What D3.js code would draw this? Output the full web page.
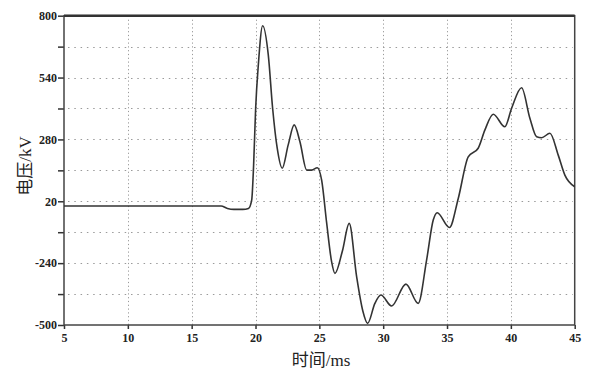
<!DOCTYPE html>
<html>
<head>
<meta charset="utf-8">
<script src="https://cdn.jsdelivr.net/npm/d3@7"></script>
<style>
  body { margin: 0; background: #fff; }
  svg { display: block; }
</style>
</head>
<body>
<svg id="chart" width="592" height="370"></svg>
<script>
// 时间 (ms)
const time = [5, 10, 15, 17.3, 17.8, 18.3, 19.0, 19.45, 19.7, 19.85, 20.01, 20.22, 20.56,
  21.0, 21.34, 21.7, 22.09, 22.56, 23.03, 23.48, 24.01, 24.4, 24.84, 25.18, 25.57, 25.96,
  26.22, 26.8, 27.34, 27.92, 28.4, 28.78, 29.35, 29.82, 30.66, 31.78, 32.74, 33.4, 33.92,
  34.23, 35.19, 35.88, 36.66, 37.44, 37.97, 38.62, 39.53, 40.06, 40.84, 41.49, 42.02,
  42.41, 43.06, 43.71, 44.23, 45]
// 电压 (kV)
const voltage = [0, 0, 0, 0, -10, -14, -14, -10, 25, 170, 410, 593, 758,
  635, 411, 243, 159, 257, 341, 270, 151, 151, 161, 109, -70, -234,
  -283, -190, -73, -297, -440, -493, -409, -374, -420, -328, -409, -227, -59,
  -28, -90, 32, 207, 243, 320, 386, 333, 411, 497, 369, 291,
  287, 306, 214, 130, 81]

const xTicks = [5, 10, 15, 20, 25, 30, 35, 40, 45]
const yTicks = [800, 540, 280, 20, -240, -500]
const yMinor = [670, 410, 150, -110, -370]

const svg = d3.select('#chart')
const box = { left: 64, right: 574.7, top: 15.7, bottom: 325 }

const x = d3.scaleLinear().domain([5, 45]).range([box.left, box.right])
const y = d3.scaleLinear().domain([-500, 800]).range([box.bottom, box.top])

const serif = 'Liberation Serif'
const cjk = 'Noto Sans CJK SC'

// 网格线
const grid = svg.append('g').attr('stroke', '#9a9a9a').attr('stroke-width', 1)
grid.selectAll('.hgrid')
  .data(yTicks.concat(yMinor).filter(v => v !== 800 && v !== -500))
  .enter().append('line')
  .attr('x1', box.left + 4).attr('x2', box.right - 2)
  .attr('y1', d => Math.round(y(d)) + 0.5).attr('y2', d => Math.round(y(d)) + 0.5)
  .attr('stroke-dasharray', '1.5,4.8')
grid.selectAll('.vgrid')
  .data(xTicks.filter(v => v !== 5 && v !== 45))
  .enter().append('line')
  .attr('x1', d => Math.round(x(d)) + 0.5).attr('x2', d => Math.round(x(d)) + 0.5)
  .attr('y1', box.top + 4).attr('y2', box.bottom)
  .attr('stroke-dasharray', '1.2,2.6')

// 坐标轴
const yAxis = d3.axisLeft(y).tickValues(yTicks.concat(yMinor)).tickSize(6).tickPadding(1)
  .tickFormat(d => yTicks.includes(d) ? d : '')
const yg = svg.append('g').attr('transform', `translate(${box.left},0)`).call(yAxis)
const xAxis = d3.axisBottom(x).tickValues(xTicks).tickSize(4).tickPadding(4)
const xg = svg.append('g').attr('transform', `translate(0,${box.bottom})`).call(xAxis)

for (const g of [yg, xg]) {
  g.select('.domain').remove()
  g.selectAll('line').attr('stroke', '#333').attr('stroke-width', 1.5)
  g.selectAll('text')
    .style('font-family', serif)
    .style('font-weight', 'bold')
    .style('font-size', '12px')
    .style('fill', '#222')
}

// 边框
svg.append('rect')
  .attr('x', box.left).attr('y', box.top)
  .attr('width', box.right - box.left).attr('height', box.bottom - box.top)
  .attr('fill', 'none').attr('stroke', '#444').attr('stroke-width', 1.5)
svg.append('line')
  .attr('x1', box.left).attr('x2', box.right)
  .attr('y1', box.top).attr('y2', box.top)
  .attr('stroke', '#333').attr('stroke-width', 2.5)

// 电压曲线
const line = d3.line()
  .x((d, i) => x(time[i]))
  .y(d => y(d))
  .curve(d3.curveMonotoneX)
svg.append('path')
  .datum(voltage)
  .attr('d', line)
  .attr('fill', 'none')
  .attr('stroke', '#333')
  .attr('stroke-width', 1.6)

// 轴标题 (中文 + 单位)
function title(g, zh, unit) {
  const t = g.append('text')
    .attr('text-anchor', 'middle')
    .style('font-size', '17px')
    .style('fill', '#222')
  t.append('tspan').text(zh).style('font-family', cjk)
  t.append('tspan').text(unit).style('font-family', serif)
  return t
}
title(svg, '时间', '/ms').attr('x', 321).attr('y', 366)
title(svg, '电压', '/kV').attr('transform', 'translate(31,166) rotate(-90)')
</script>
</body>
</html>
